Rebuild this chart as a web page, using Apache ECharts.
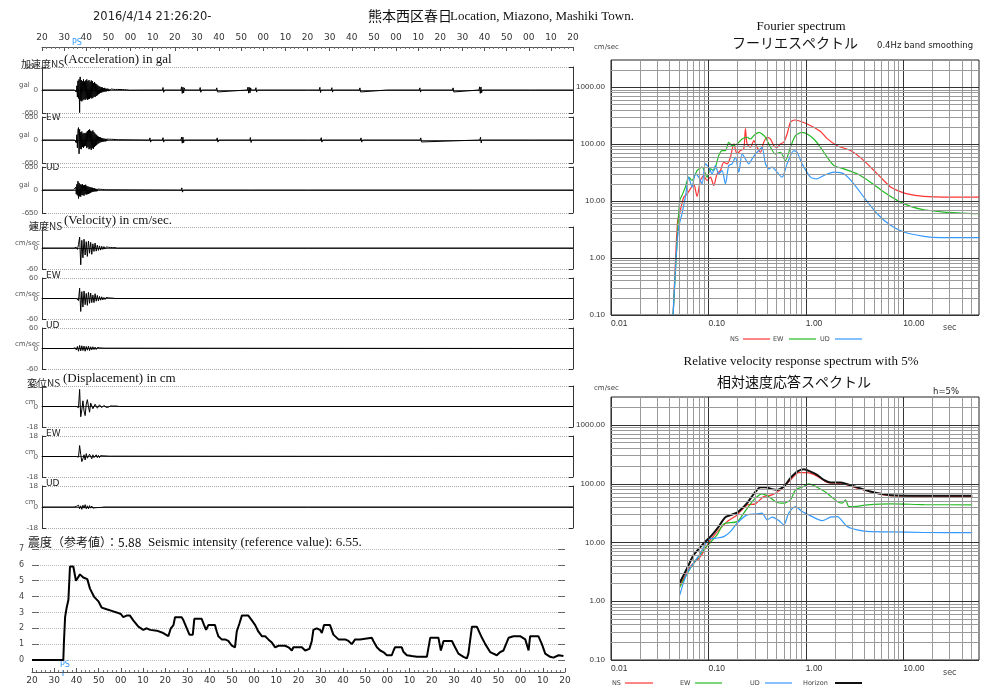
<!DOCTYPE html>
<html><head><meta charset="utf-8">
<script src="https://cdn.jsdelivr.net/npm/echarts@6/dist/echarts.min.js"></script>
<style>html,body{margin:0;padding:0;background:#fff}#c{width:989px;height:687px}</style>
</head><body><div id="c"></div>
<script>
// ---------- tick labels ----------
const timeTickLabels = ['20','30','40','50','00','10','20','30','40','50','00','10','20','30','40','50','00','10','20','30','40','50','00','10','20'];
const periodGrid = [0.01,0.02,0.03,0.04,0.05,0.06,0.07,0.08,0.09,0.1,0.2,0.3,0.4,0.5,0.6,0.7,0.8,0.9,1,2,3,4,5,6,7,8,9,10,20,30,40,50];
const valueGrid = [0.1,0.2,0.3,0.4,0.5,0.6,0.7,0.8,0.9,1,2,3,4,5,6,7,8,9,10,20,30,40,50,60,70,80,90,100,200,300,400,500,600,700,800,900,1000,2000];

// ---------- waveforms (seconds from 21:26:20) ----------
const accStart = 15, accUDStart = 14.5, accStep = 0.25;
const accNS = [0,30,-60,120,-200,260,-240,300,-640,370,-300,280,-320,250,-290,300,
 -260,240,-280,270,-240,300,-280,250,-260,280,-250,230,-220,270,-240,250,
 -220,200,-190,220,-200,180,-170,160,-150,130,-120,110,-100,90,-85,80,
 -70,75,-60,55,-50,60,-45,40,-42,35,-30,38,-32,30,-28,25,
 -26,30,-22,20,-24,18,-20,22,-16,15,-18,14,-12,16,-14,12,
 -10,14,-12,10,-9,12,-10,8,-8,10,-7,8,-6,7,-6,5,-5,6,-4,4];
const accEW = [0,40,-80,150,-220,280,350,-390,300,-250,220,-260,240,-200,180,-220,
 200,-180,190,-170,210,-230,250,-200,280,-260,300,-240,260,-280,240,-230,
 270,-250,220,-200,180,-170,150,-140,120,-110,95,-90,80,-70,75,-60,
 55,-50,48,-45,40,-38,35,-40,32,-30,28,-25,30,-22,20,-24,
 18,-16,20,-15,14,-12,16,-13,12,-10,11,-9,10,-8,9,-7];
const accUD = [0,20,-40,80,-120,160,-150,250,-240,200,-180,160,-190,150,-140,170,
 -150,130,-160,140,-120,150,-130,110,-120,100,-110,90,-95,80,-85,70,
 -60,65,-55,50,-45,48,-40,35,-38,30,-32,28,-25,30,-22,20,
 -24,18,-20,16,-15,18,-14,12,-13,11,-12,10,-9,10,-8,7];
const accNSBlips = [[54.4,0],[54.7,70],[55,-65],[55.3,0],[62.8,0],[63.1,90],[63.4,-95],[63.7,80],[64,-85],[64.3,60],[64.6,0],
 [71.2,0],[71.5,70],[71.8,-65],[72.1,0],[78.7,0],[79,60],[79.3,-55],[79.6,0],[92.8,0],[93.1,80],[93.4,-90],[93.7,75],[94,-80],[94.3,60],[94.6,0],
 [96.4,0],[96.7,65],[97,-60],[97.3,0],[125.3,0],[125.6,75],[125.9,-70],[126.2,0],[130.7,0],[131,65],[131.3,-60],[131.6,0],
 [143.4,0],[143.7,60],[144,-55],[144.3,0],[156,0],[156.3,50],[156.6,-45],[156.9,0],[170.5,0],[170.8,60],[171.1,-60],[171.4,0],
 [185.5,0],[185.8,60],[186.1,-55],[186.4,0],[197.5,0],[197.8,90],[198.1,-95],[198.4,85],[198.7,-80],[199,0],[214.7,0],[215,55],[215.3,-55],[215.6,0],[220.8,0],[221.1,50],[221.4,-45],[221.7,0]];
const accEWBlips = [[48.5,0],[48.8,60],[49.1,-60],[49.4,0],[54.4,0],[54.7,65],[55,-60],[55.3,0],[62.8,0],[63.1,85],[63.4,-90],[63.7,80],[64,-75],[64.3,0],
 [78.9,0],[79.2,60],[79.5,-60],[79.8,0],[93.9,0],[94.2,70],[94.5,-70],[94.8,0],[125.9,0],[126.2,65],[126.5,-60],[126.8,0],
 [143.9,0],[144.2,60],[144.5,-60],[144.8,0],[170.9,0],[171.2,60],[171.5,-55],[171.8,0],[197.9,0],[198.2,80],[198.5,-80],[198.8,0],[220.9,0],[221.2,55],[221.5,-55],[221.8,0]];
const accUDBlips = [[62.9,0],[63.2,60],[63.5,-60],[63.8,0],[93.9,0],[94.2,50],[94.5,-50],[94.8,0],[197.9,0],[198.2,55],[198.5,-55],[198.8,0]];

const velStart = 15, velUDStart = 14.5, velStep = 0.5;
const velNS = [0,2,-4,10,31,-48,22,-28,25,-20,18,-24,20,-15,16,-18,12,-10,14,-9,8,-7,6,-6,5,-4,4,-3,3,-2,2,-2,1.5,-1.5,1,-1,1,-1];
const velEW = [0,0,3,-6,30,-38,20,-25,22,-18,15,-20,18,-14,16,-12,10,-12,14,-8,9,-7,6,-5,5,-4,3,-3,3,-2,2,-2,1.5,-1,1,-1];
const velUD = [0,2,-4,6,-8,9,-7,8,-6,7,-8,6,-5,7,-6,5,-4,5,-3,4,-3,3,-2,2,-2,1.5,-1.5,1,-1,1];

const dispStart = 15, dispStep = 0.5;
const dispNS = [0,0,1,-1,15,-9,-3,5,-4,-8,2,6,0,-5,3,4,-2,-3,2,2.5,-1.5,-2,1.5,1.5,-1,-1.2,1,0.8,-0.8,0.6,-0.6,0.5,0.5,-0.5,0.4,-0.4,0.4,-0.3,0.3,-0.3];
const dispEW = [0,0,0.5,-0.5,9.6,2,-4.5,-2,1.5,-3,2.5,-1.5,-2.5,2,1,-2,1.5,-1,-1.5,1.5,-1,1,-1,0.8,-0.8,0.6,-0.6,0.5,-0.5,0.4,-0.4,0.3,-0.3,0.3];
const dispUD = [0,0.5,-1,1.5,-1.5,1,-2,1.5,-1,2,-1.5,1,-1.5,1.2,-1,0.8,-1,0.6,-0.6,0.5,-0.5,0.4,-0.4,0.3,-0.3,0.2];

// ---------- seismic intensity [time s, value] ----------
const intensity = [[0,0],[14.1,0],[14.4,1.2],[14.9,2.7],[15.6,3.3],[16.4,3.8],[17.1,5.9],[18.6,5.9],[19.8,5.0],[21.6,5.4],[23.1,5.2],[24.9,5.1],[26.1,4.5],[27.9,4.0],[29.9,3.7],[31.4,3.3],[33.6,3.2],[35.9,3.1],[38.1,3.0],[40.0,2.9],[41.1,2.7],[42.6,2.8],[44.1,2.8],[45.6,2.5],[47.9,2.1],[50.1,1.9],[51.7,2.0],[53.2,1.9],[56.2,1.85],[59.1,1.7],[61.4,1.5],[62.5,2.0],[63.7,2.2],[64.4,2.7],[67.4,2.7],[68.2,2.5],[69.7,2.0],[70.9,1.6],[72.4,1.6],[73.1,2.6],[76.4,2.6],[77.5,2.2],[78.4,1.9],[79.4,2.2],[82.4,2.2],[83.2,1.8],[83.9,1.5],[85.4,1.3],[86.9,1.3],[88.4,1.2],[90.0,0.9],[91.4,0.8],[92.2,1.8],[93.4,2.3],[94.5,2.8],[97.4,2.8],[99.0,2.5],[100.5,2.2],[101.9,1.8],[103.5,1.5],[105.0,1.5],[106.4,1.3],[108.0,1.1],[109.5,0.8],[111.0,0.9],[114.0,0.9],[115.5,0.8],[117.0,0.6],[117.7,0.8],[121.5,0.8],[123.0,0.6],[123.7,0.5],[124.9,0.7],[126.0,1.2],[126.7,1.9],[128.2,2.0],[129.7,1.9],[130.5,1.7],[131.5,2.2],[134.2,2.2],[135.7,1.6],[138.0,1.3],[141.0,1.3],[142.5,1.2],[144.0,1.0],[145.5,1.3],[147.7,1.3],[148.5,1.4],[153.0,1.4],[153.7,1.2],[155.3,0.8],[156.8,0.6],[158.2,0.5],[159.8,0.3],[162.0,0.3],[162.8,0.6],[163.5,0.8],[166.5,0.8],[167.3,0.5],[168.8,0.3],[171.0,0.25],[173.3,0.2],[177.8,0.2],[178.1,0.1],[179.3,1.4],[183.0,1.4],[184.1,0.6],[185.3,1.2],[189.1,1.2],[190.5,0.8],[192.0,0.4],[194.3,0.2],[195.8,0.1],[196.5,0.4],[198.1,2.1],[200.3,2.1],[202.6,1.4],[204.1,1.0],[206.3,0.5],[209.3,0.3],[210.8,0.5],[212.3,0.6],[214.6,1.4],[216.8,1.5],[219.8,1.5],[222.1,1.3],[223.6,0.6],[224.3,1.5],[228.0,1.5],[229.6,1.0],[231.1,0.4],[233.3,0.2],[234.8,0.15],[237.1,0.3],[239.3,0.25]];

// ---------- Fourier spectrum [period s, cm/s] ----------
const fourierNS = [[0.0434,0.1],[0.0458,0.8],[0.0484,4.6],[0.0516,6.9],[0.0558,11.7],[0.0604,13.4],[0.0653,16.4],[0.0707,20.1],[0.0765,12.1],[0.0828,23],[0.0895,28.1],[0.0969,23],[0.1049,26.3],[0.1135,18.8],[0.1228,30.1],[0.1328,34.4],[0.1438,48.1],[0.1556,45],[0.1683,58.9],[0.182,100.7],[0.1972,67.3],[0.2133,77],[0.2307,82.3],[0.2399,187],[0.2495,100.7],[0.2704,88.1],[0.2924,115],[0.3162,88],[0.342,72],[0.37,108],[0.401,132],[0.4335,123],[0.469,94],[0.507,88],[0.5495,101],[0.594,108],[0.643,151],[0.695,241],[0.766,265],[1.033,225],[1.416,167],[1.656,125],[2.099,94],[2.877,77],[3.945,51.4],[5.408,30.1],[6.324,23],[7.413,17.6],[8.67,15.4],[10.99,13.4],[16.29,12.1],[26.18,11.7],[60,11.7]];
const fourierEW = [[0.0434,0.1],[0.0484,3.07],[0.0508,10.3],[0.0536,12.6],[0.058,17.6],[0.0628,26.3],[0.0679,23],[0.0765,34.4],[0.0861,39.4],[0.0969,26.3],[0.1049,36.8],[0.1135,34.4],[0.1277,63],[0.1381,77],[0.1496,77],[0.1618,107.6],[0.175,94.2],[0.1972,100.7],[0.2218,123],[0.2495,132],[0.2704,123],[0.2924,141],[0.3289,161],[0.3556,151],[0.3855,132],[0.4335,88],[0.4875,67],[0.5495,72],[0.618,51.4],[0.695,88],[0.7834,141],[0.9162,161],[1.033,151],[1.208,123],[1.416,88],[1.656,58.9],[1.941,42.1],[2.455,36.8],[3.365,30.1],[4.613,21.5],[6.324,14.4],[8.67,10.3],[11.89,8.07],[16.29,7.05],[26.18,6.42],[60,6.0]];
const fourierUD = [[0.0434,0.1],[0.0469,1.2],[0.0496,3.51],[0.0536,6],[0.058,11.7],[0.0628,26.3],[0.0679,17.6],[0.0735,30.1],[0.0796,26.3],[0.0861,20.1],[0.0931,45],[0.1007,39.4],[0.1091,30.1],[0.118,42.1],[0.1277,30.1],[0.1381,34.4],[0.1496,20.1],[0.1618,42.1],[0.175,45],[0.1893,58.9],[0.2051,32.2],[0.2218,67.3],[0.2399,55.1],[0.2594,45],[0.2812,55.1],[0.3041,67.3],[0.3289,77],[0.3556,88],[0.3855,45],[0.4169,36.8],[0.4508,39.4],[0.507,32.2],[0.5715,26.3],[0.6427,45],[0.753,77],[0.8147,72],[0.9162,45],[1.117,26.3],[1.306,24.6],[1.531,28.1],[1.941,32.2],[2.455,30.1],[3.112,20.1],[3.945,11.7],[5.408,6],[7.413,3.75],[10.16,2.87],[16.29,2.41],[24.21,2.29],[60,2.29]];

// ---------- relative velocity response spectrum h=5% [period s, cm/s] ----------
const responseNS = [[0.0508,1.82],[0.0653,3.9],[0.0828,5.75],[0.1049,11.1],[0.1556,22.7],[0.1972,29.5],[0.2495,43.7],[0.3041,45.5],[0.37,60.5],[0.4508,64.7],[0.5495,78.7],[0.695,116],[0.8472,155],[0.9931,155],[1.161,147.5],[1.416,124.5],[1.656,105],[2.099,102],[2.661,95.8],[3.365,84],[5.0,70.8],[6.324,64.7],[8.67,62.3],[51.17,60.5]];
const responseEW = [[0.0508,1.73],[0.0653,3.65],[0.0895,7.5],[0.1228,13.5],[0.1438,20.7],[0.1972,22.7],[0.2307,31.6],[0.2924,53.2],[0.3556,67.3],[0.4169,60.5],[0.507,47.9],[0.594,46.7],[0.695,53.2],[0.7834,78.7],[0.9162,87.5],[1.074,99.6],[1.306,87.5],[1.656,69.2],[2.099,49.8],[2.36,46.7],[2.559,53.2],[2.767,40.9],[3.112,40.9],[4.266,43.7],[7.413,45.5],[16.29,44.2],[51.17,43.7]];
const responseUD = [[0.0508,1.28],[0.0604,3.0],[0.0828,6.57],[0.1007,11.4],[0.118,11.8],[0.1438,12.6],[0.1683,15.3],[0.1972,21.3],[0.2495,29.5],[0.3162,30.7],[0.3556,31.6],[0.4009,24.3],[0.4508,27],[0.5284,23.6],[0.5943,20],[0.6683,31.6],[0.7834,40.9],[0.9162,33.6],[1.074,29.5],[1.472,23.6],[1.791,27],[2.099,27.6],[2.661,18.7],[3.365,16.4],[4.613,15.3],[7.413,15.2],[16.29,14.8],[51.17,14.7]];
const responseHorizon = [[0.0508,2.07],[0.0604,3.65],[0.0707,6.15],[0.0895,9.7],[0.1091,13.5],[0.1277,18.7],[0.1496,27],[0.1972,32.3],[0.2495,46.7],[0.2924,67.3],[0.342,87.5],[0.3855,87.5],[0.4508,81],[0.507,78.7],[0.594,89.6],[0.695,124.5],[0.8147,161],[0.9528,177],[1.117,161],[1.306,142],[1.531,116],[1.791,105],[2.27,105],[2.661,98],[3.365,87.5],[4.613,73.6],[6.324,66.4],[8.67,63],[16.29,62.3],[51.17,62.3]];

// ---------- build ----------
function buildWave(start, dt, vals, blips) {
  const d = [[0, 0], [start - dt, 0]];
  vals.forEach((v, i) => d.push([Math.round((start + i * dt) * 1000) / 1000, v]));
  d.push([start + vals.length * dt, 0]);
  (blips || []).forEach(p => d.push(p));
  d.push([240, 0]);
  return d;
}
const panels = [
  {top: 67,  h: 46, max: 650, data: buildWave(accStart, accStep, accNS, accNSBlips)},
  {top: 117, h: 46, max: 650, data: buildWave(accStart, accStep, accEW, accEWBlips)},
  {top: 167, h: 46, max: 650, data: buildWave(accUDStart, accStep, accUD, accUDBlips)},
  {top: 227, h: 42, max: 60, data: buildWave(velStart, velStep, velNS)},
  {top: 278, h: 41, max: 60, data: buildWave(velStart, velStep, velEW)},
  {top: 328, h: 41, max: 60, data: buildWave(velUDStart, velStep, velUD)},
  {top: 386, h: 41, max: 18, data: buildWave(dispStart, dispStep, dispNS)},
  {top: 436, h: 41, max: 18, data: buildWave(dispStart, dispStep, dispEW)},
  {top: 486, h: 42, max: 18, data: buildWave(dispStart, dispStep, dispUD)}
];
const grids = [], xAxes = [], yAxes = [], series = [];
const timeFmt = v => timeTickLabels[Math.round(v / 10)] || '';
panels.forEach((p, i) => {
  grids.push({left: 42, top: p.top, width: 531, height: p.h});
  xAxes.push({gridIndex: i, type: 'value', min: 0, max: 240,
    axisLine: {show: true, onZero: true, lineStyle: {color: '#444', width: 1}},
    axisTick: {show: false}, axisLabel: {show: false}, splitLine: {show: false}});
  yAxes.push({gridIndex: i, type: 'value', min: -p.max, max: p.max, interval: p.max,
    axisLine: {show: true, onZero: false, lineStyle: {color: '#333'}},
    axisTick: {show: true, inside: true, length: 4, lineStyle: {color: '#333'}},
    axisLabel: {fontSize: 8, color: '#555', margin: 4, fontFamily: 'Liberation Sans'},
    splitLine: {show: true, lineStyle: {type: 'dotted', color: '#aaa'}}});
  series.push({type: 'line', xAxisIndex: i, yAxisIndex: i, data: p.data, showSymbol: false,
    lineStyle: {color: '#000', width: 1}, animation: false, silent: true});
});
panels.forEach((p, i) => {
  yAxes.push({gridIndex: i, type: 'value', position: 'right', min: -p.max, max: p.max, interval: p.max,
    axisLine: {show: true, onZero: false, lineStyle: {color: '#333'}},
    axisTick: {show: true, inside: true, length: 4, lineStyle: {color: '#333'}},
    axisLabel: {show: false}, splitLine: {show: false}});
});
// intensity grid (index 9)
grids.push({left: 32, top: 549, width: 533, height: 111});
xAxes.push({gridIndex: 9, type: 'value', min: 0, max: 240, interval: 10, offset: 12,
  axisLine: {show: true, onZero: false, lineStyle: {color: '#555'}},
  axisTick: {show: true, inside: true, length: 4, lineStyle: {color: '#555'}},
  minorTick: {show: true, splitNumber: 5, length: 2, lineStyle: {color: '#777'}},
  axisLabel: {fontSize: 9, color: '#333', margin: 4, fontFamily: 'DejaVu Sans', formatter: timeFmt},
  splitLine: {show: false}});
yAxes.push({gridIndex: 9, type: 'value', min: 0, max: 7, interval: 1,
  axisLine: {show: false}, axisTick: {show: true, inside: true, length: 7, lineStyle: {color: '#666'}},
  axisLabel: {fontSize: 8, color: '#444', margin: 8, fontFamily: 'DejaVu Sans'},
  splitLine: {show: true, lineStyle: {type: 'dotted', color: '#bbb'}}});
yAxes.push({gridIndex: 9, type: 'value', position: 'right', min: 0, max: 7, interval: 1,
  axisLine: {show: false}, axisTick: {show: true, inside: true, length: 7, lineStyle: {color: '#666'}},
  axisLabel: {show: false}, splitLine: {show: false}});
series.push({type: 'line', xAxisIndex: 9, yAxisIndex: 18, data: intensity, showSymbol: false,
  lineStyle: {color: '#000', width: 2}, silent: true});
// top ruler (xAxis 10 on grid 0)
xAxes.push({gridIndex: 0, type: 'value', position: 'top', offset: 20, min: 0, max: 240, interval: 10,
  axisLine: {show: true, onZero: false, lineStyle: {color: '#555'}},
  axisTick: {show: true, inside: true, length: 4, lineStyle: {color: '#555'}},
  minorTick: {show: true, splitNumber: 5, length: 2, lineStyle: {color: '#777'}},
  axisLabel: {fontSize: 9, color: '#333', margin: 5, fontFamily: 'DejaVu Sans', formatter: timeFmt},
  splitLine: {show: false}});

// log plots
const decFmt = v => { const l = Math.log10(v); return Math.abs(l - Math.round(l)) < 1e-6 ? v.toFixed(2) : ''; };
const isDecade = v => { const l = Math.log10(v); return Math.abs(l - Math.round(l)) < 1e-6; };
function logPlot(gi, top, h) {
  grids.push({left: 611, top: top, width: 368, height: h, show: true, borderColor: '#222', borderWidth: 1, backgroundColor: 'transparent'});
  xAxes.push({gridIndex: gi, type: 'log', logBase: 10, min: 0.01, max: 60,
    axisLine: {show: false}, axisTick: {show: false}, splitLine: {show: false},
    axisLabel: {fontSize: 8.5, color: '#333', margin: 4, align: 'left', fontFamily: 'Liberation Sans', formatter: decFmt, showMaxLabel: false}});
  yAxes.push({gridIndex: gi, type: 'log', logBase: 10, min: 0.1, max: 3000,
    axisLine: {show: false}, axisTick: {show: false}, splitLine: {show: false},
    axisLabel: {fontSize: 8, color: '#333', margin: 6, fontFamily: 'Liberation Sans', formatter: decFmt, showMaxLabel: false}});
}
logPlot(10, 60, 255);
logPlot(11, 397, 263);
function gridSeries(xi, yi) {
  const md = [];
  periodGrid.forEach(v => md.push({xAxis: v, lineStyle: {color: isDecade(v) ? '#333' : '#9a9a9a', width: 1, type: 'solid'}}));
  valueGrid.forEach(v => md.push({yAxis: v, lineStyle: {color: isDecade(v) ? '#333' : '#9a9a9a', width: 1, type: 'solid'}}));
  return {type: 'line', xAxisIndex: xi, yAxisIndex: yi, data: [[1, 1]], showSymbol: false, lineStyle: {opacity: 0}, silent: true,
    markLine: {silent: true, symbol: ['none', 'none'], label: {show: false}, animation: false, data: md}};
}
series.push(gridSeries(11, 20));
series.push(gridSeries(12, 21));
const curve = (xi, yi, data, color, w) => ({type: 'line', xAxisIndex: xi, yAxisIndex: yi, data: data, showSymbol: false,
  smooth: 0.25, lineStyle: {color: color, width: w}, silent: true, clip: true});
series.push(curve(11, 20, fourierNS, '#ff3333', 1.2));
series.push(curve(11, 20, fourierEW, '#22bb22', 1.2));
series.push(curve(11, 20, fourierUD, '#3399ff', 1.2));
series.push(curve(12, 21, responseNS, '#ff3333', 1.2));
series.push(curve(12, 21, responseEW, '#22bb22', 1.2));
series.push(curve(12, 21, responseUD, '#3399ff', 1.2));
series.push(curve(12, 21, responseHorizon, '#111', 2));

// ---------- texts ----------
function txt(x, y, text, font, fill, align) {
  return {type: 'text', x: x, y: y, silent: true, style: {text: text, font: font, fill: fill || '#222',
    textAlign: align || 'left', align: align || 'left', textVerticalAlign: 'middle', verticalAlign: 'middle'}};
}
function ln(x1, y1, x2, y2, c, w) {
  return {type: 'line', silent: true, shape: {x1: x1, y1: y1, x2: x2, y2: y2}, style: {stroke: c, lineWidth: w || 1.2}};
}
const serif = '"Liberation Serif", serif';
const cjk = '"Noto Sans CJK JP"';
const graphic = [
  txt(93, 17, '2016/4/14 21:26:20-', '11.5px "DejaVu Sans"', '#222'),
  txt(368, 16, '熊本西区春日', '14px ' + cjk, '#111'),
  txt(450, 17, 'Location, Miazono, Mashiki Town.', '13px ' + serif, '#111'),
  txt(21, 64, '加速度NS', '10px ' + cjk, '#222'),
  txt(64, 60, '(Acceleration) in gal', '13px ' + serif, '#111'),
  txt(46, 118, 'EW', '9px "DejaVu Sans"', '#222'),
  txt(46, 168, 'UD', '9px "DejaVu Sans"', '#222'),
  txt(29, 226, '速度NS', '10px ' + cjk, '#222'),
  txt(64, 221, '(Velocity) in cm/sec.', '13px ' + serif, '#111'),
  txt(46, 276, 'EW', '9px "DejaVu Sans"', '#222'),
  txt(46, 326, 'UD', '9px "DejaVu Sans"', '#222'),
  txt(27, 383, '変位NS', '10px ' + cjk, '#222'),
  txt(63, 379, '(Displacement) in cm', '13px ' + serif, '#111'),
  txt(46, 434, 'EW', '9px "DejaVu Sans"', '#222'),
  txt(46, 484, 'UD', '9px "DejaVu Sans"', '#222'),
  txt(19, 85, 'gal', '7px "DejaVu Sans"', '#555'),
  txt(19, 135, 'gal', '7px "DejaVu Sans"', '#555'),
  txt(19, 185, 'gal', '7px "DejaVu Sans"', '#555'),
  txt(15, 243, 'cm/sec', '7px "DejaVu Sans"', '#555'),
  txt(15, 294, 'cm/sec', '7px "DejaVu Sans"', '#555'),
  txt(15, 344, 'cm/sec', '7px "DejaVu Sans"', '#555'),
  txt(25, 402, 'cm', '7px "DejaVu Sans"', '#555'),
  txt(25, 452, 'cm', '7px "DejaVu Sans"', '#555'),
  txt(25, 502, 'cm', '7px "DejaVu Sans"', '#555'),
  txt(28, 542, '震度（参考値）：5.88', '12px ' + cjk, '#111'),
  txt(148, 543, 'Seismic intensity (reference value): 6.55.', '13px ' + serif, '#111'),
  txt(72, 43, 'PS', '8px "DejaVu Sans"', '#3399ff'),
  txt(60, 665, 'PS', '8px "DejaVu Sans"', '#3399ff'),
  ln(63, 670, 63, 676, '#3399ff', 1),
  // Fourier
  txt(801, 27, 'Fourier spectrum', '13px ' + serif, '#111', 'center'),
  txt(795, 43, 'フーリエスペクトル', '14px ' + cjk, '#111', 'center'),
  txt(877, 46, '0.4Hz band smoothing', '8.5px "DejaVu Sans"', '#222'),
  txt(594, 47, 'cm/sec', '7px "DejaVu Sans"', '#444'),
  txt(943, 328, 'sec', '8px "DejaVu Sans"', '#444'),
  txt(730, 339, 'NS', '6.5px "DejaVu Sans"', '#444'), ln(743, 339, 770, 339, '#ff3333'),
  txt(773, 339, 'EW', '6.5px "DejaVu Sans"', '#444'), ln(789, 339, 816, 339, '#22bb22'),
  txt(820, 339, 'UD', '6.5px "DejaVu Sans"', '#444'), ln(835, 339, 862, 339, '#3399ff'),
  // Response
  txt(801, 362, 'Relative velocity response spectrum with 5%', '13px ' + serif, '#111', 'center'),
  txt(794, 382, '相対速度応答スペクトル', '14px ' + cjk, '#111', 'center'),
  txt(933, 392, 'h=5%', '8.5px "DejaVu Sans"', '#222'),
  txt(594, 388, 'cm/sec', '7px "DejaVu Sans"', '#444'),
  txt(943, 673, 'sec', '8px "DejaVu Sans"', '#444'),
  txt(612, 683, 'NS', '6.5px "DejaVu Sans"', '#444'), ln(625, 683, 653, 683, '#ff3333'),
  txt(680, 683, 'EW', '6.5px "DejaVu Sans"', '#444'), ln(695, 683, 722, 683, '#22bb22'),
  txt(750, 683, 'UD', '6.5px "DejaVu Sans"', '#444'), ln(765, 683, 792, 683, '#3399ff'),
  txt(803, 683, 'Horizon', '6.5px "DejaVu Sans"', '#444'), ln(835, 683, 862, 683, '#111', 2)
];

const chart = echarts.init(document.getElementById('c'), null, {renderer: 'canvas', width: 989, height: 687});
chart.setOption({
  animation: false,
  backgroundColor: '#fff',
  grid: grids, xAxis: xAxes, yAxis: yAxes, series: series, graphic: graphic
});
</script></body></html>
